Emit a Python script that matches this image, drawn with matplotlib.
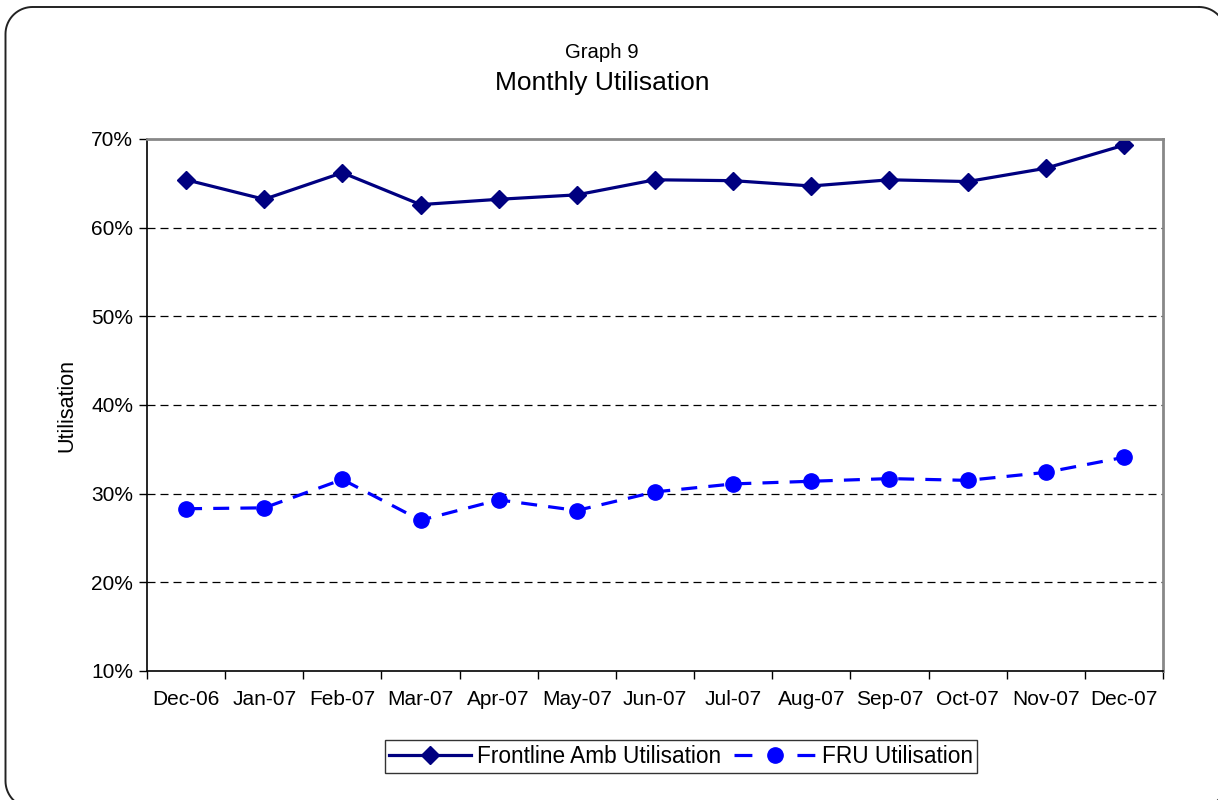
import numpy as np
import matplotlib.pyplot as plt
from matplotlib.lines import Line2D
from matplotlib.ticker import FixedLocator, NullFormatter, PercentFormatter

months = ["Dec-06", "Jan-07", "Feb-07", "Mar-07", "Apr-07", "May-07", "Jun-07",
          "Jul-07", "Aug-07", "Sep-07", "Oct-07", "Nov-07", "Dec-07"]
frontline = [65.4, 63.2, 66.2, 62.6, 63.2, 63.7, 65.4, 65.3, 64.7, 65.4, 65.2, 66.7, 69.3]
fru = [28.3, 28.4, 31.6, 27.0, 29.3, 28.1, 30.2, 31.1, 31.4, 31.7, 31.5, 32.4, 34.1]

plt.rcParams["font.family"] = ["Liberation Sans", "DejaVu Sans"]

W, H = 1218, 800
fig = plt.figure(figsize=(W / 100, H / 100), dpi=100)


def rounded_frame(left, top, right, bottom, r):
    # outline of a rounded rectangle in pixel coords (y down), as a polyline
    xs, ys = [], []
    corners = [(right - r, top + r, -90, 0), (right - r, bottom - r, 0, 90),
               (left + r, bottom - r, 90, 180), (left + r, top + r, 180, 270)]
    for cx, cy, a0, a1 in corners:
        t = np.radians(np.linspace(a0, a1, 20))
        xs.extend(cx + r * np.cos(t))
        ys.extend(cy + r * np.sin(t))
    xs.append(xs[0])
    ys.append(ys[0])
    return np.array(xs) / W, 1 - np.array(ys) / H


fx, fy = rounded_frame(5.5, 7, 1226, 808, 27)
fig.add_artist(Line2D(fx, fy, transform=fig.transFigure, color="#222222", linewidth=1.4))

ax = fig.add_axes([147 / W, 1 - 671 / H, (1163 - 147) / W, (671 - 139) / H])

x = list(range(len(months)))
ax.plot(x, frontline, color="#000080", linewidth=2.3, marker="D", markersize=9.5,
        label="Frontline Amb Utilisation")
ax.plot(x, fru, color="#0000FF", linewidth=2.3, linestyle=(0, (5.0, 3.5)), marker="o",
        markersize=11, label="FRU Utilisation")

ax.set_xlim(-0.5, len(months) - 0.5)
ax.set_ylim(10, 70)
ax.set_yticks(range(10, 71, 10))
ax.yaxis.set_major_formatter(PercentFormatter(decimals=0))
for g in range(20, 61, 10):
    ax.axhline(g, color="black", linewidth=0.9, linestyle=(0, (6.4, 4)), zorder=0)

ax.set_xticks(x)
ax.set_xticklabels(months)
ax.xaxis.set_minor_locator(FixedLocator([i - 0.5 for i in range(len(months) + 1)]))
ax.xaxis.set_minor_formatter(NullFormatter())
ax.tick_params(axis="x", which="major", length=0, pad=14, labelsize=15)
ax.tick_params(axis="x", which="minor", length=6, width=1)
ax.tick_params(axis="y", length=6, width=1, labelsize=15, pad=4)

for side in ["top", "right"]:
    ax.spines[side].set_color("#888888")
    ax.spines[side].set_linewidth(2)
for side in ["left", "bottom"]:
    ax.spines[side].set_color("black")
    ax.spines[side].set_linewidth(1.2)

ax.set_ylabel("Utilisation", fontsize=15.5, labelpad=10)

fig.text(602 / W, 1 - 52 / H, "Graph 9", ha="center", va="center", fontsize=14.7)
fig.text(602 / W, 1 - 83 / H, "Monthly Utilisation", ha="center", va="center", fontsize=19)

leg = fig.legend(loc="center", bbox_to_anchor=(681 / W, 1 - 756.5 / H), ncol=2,
                 fontsize=16.3, frameon=True, fancybox=False, edgecolor="black",
                 handlelength=3.6, columnspacing=0.6, handletextpad=0.25,
                 borderpad=0.2, borderaxespad=0)
leg.get_frame().set_linewidth(1.0)
# Excel-style legend sample: dash, marker, dash
leg.get_lines()[1].set_linestyle((0, (5.6, 14.1)))

fig.savefig("out.png", dpi=100)
